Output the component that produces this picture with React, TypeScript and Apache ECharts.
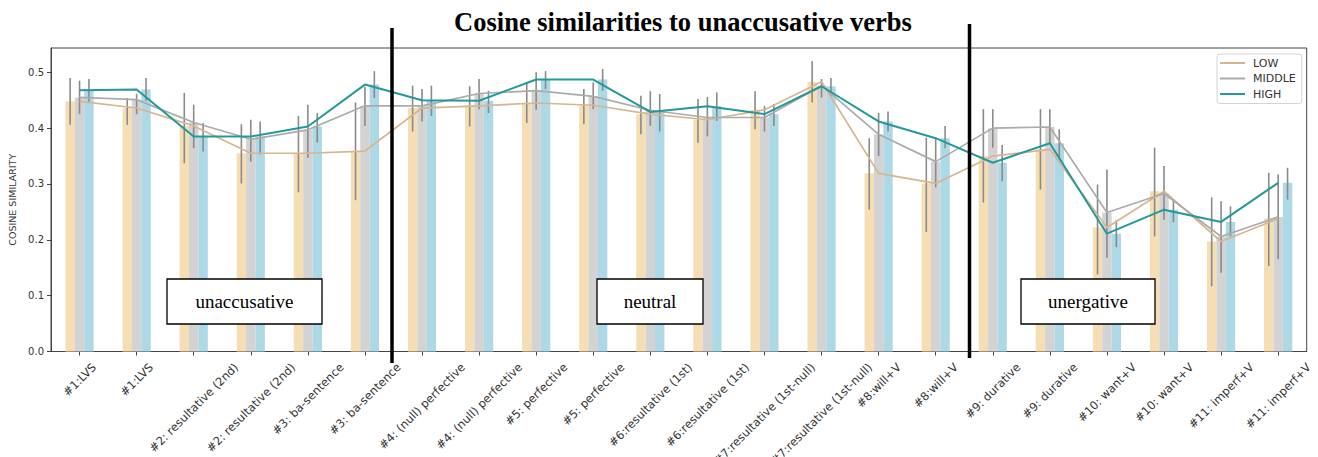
import React, { useEffect, useRef } from 'react';
import * as echarts from 'echarts';

const categories = [
  '#1:LVS', '#1:LVS',
  '#2: resultative (2nd)', '#2: resultative (2nd)',
  '#3: ba-sentence', '#3: ba-sentence',
  '#4: (null) perfective', '#4: (null) perfective',
  '#5: perfective', '#5: perfective',
  '#6:resultative (1st)', '#6:resultative (1st)',
  '#7:resultative (1st-null)', '#7:resultative (1st-null)',
  '#8:will+V', '#8:will+V',
  '#9: durative', '#9: durative',
  '#10: want+V', '#10: want+V',
  '#11: imperf+V', '#11: imperf+V',
];

const seriesNames = ['LOW', 'MIDDLE', 'HIGH'];

const lowMean = [0.448, 0.436, 0.404, 0.355, 0.355, 0.359, 0.436, 0.440, 0.445, 0.441, 0.425, 0.415, 0.433, 0.483, 0.319, 0.301, 0.350, 0.362, 0.222, 0.287, 0.197, 0.238];
const middleMean = [0.455, 0.451, 0.410, 0.380, 0.397, 0.440, 0.440, 0.462, 0.467, 0.457, 0.432, 0.419, 0.419, 0.476, 0.389, 0.340, 0.400, 0.402, 0.249, 0.283, 0.206, 0.241];
const highMean = [0.468, 0.469, 0.385, 0.385, 0.403, 0.478, 0.450, 0.449, 0.487, 0.487, 0.429, 0.439, 0.425, 0.475, 0.412, 0.382, 0.338, 0.373, 0.211, 0.254, 0.232, 0.302];

const lowCI = [
  [0.406, 0.490], [0.406, 0.454], [0.337, 0.463], [0.301, 0.407], [0.285, 0.422], [0.271, 0.446],
  [0.394, 0.476], [0.403, 0.475], [0.409, 0.482], [0.407, 0.470], [0.389, 0.458], [0.374, 0.452],
  [0.398, 0.466], [0.446, 0.520], [0.254, 0.382], [0.214, 0.383], [0.267, 0.434], [0.290, 0.434],
  [0.138, 0.299], [0.206, 0.365], [0.117, 0.276], [0.153, 0.320],
];
const middleCI = [
  [0.425, 0.485], [0.425, 0.461], [0.364, 0.442], [0.340, 0.415], [0.347, 0.442], [0.404, 0.474],
  [0.412, 0.470], [0.434, 0.488], [0.433, 0.500], [0.434, 0.482], [0.404, 0.466], [0.385, 0.456],
  [0.394, 0.440], [0.455, 0.488], [0.350, 0.427], [0.294, 0.383], [0.365, 0.434], [0.371, 0.434],
  [0.168, 0.326], [0.236, 0.332], [0.141, 0.269], [0.165, 0.317],
];
const highCI = [
  [0.446, 0.488], [0.449, 0.490], [0.358, 0.409], [0.353, 0.412], [0.374, 0.427], [0.454, 0.502],
  [0.422, 0.476], [0.427, 0.467], [0.470, 0.502], [0.467, 0.506], [0.394, 0.461], [0.413, 0.464],
  [0.404, 0.443], [0.456, 0.490], [0.394, 0.430], [0.364, 0.404], [0.305, 0.370], [0.345, 0.398],
  [0.187, 0.235], [0.231, 0.272], [0.206, 0.260], [0.272, 0.329],
];

const yTicks = [0, 0.1, 0.2, 0.3, 0.4, 0.5];
const titleText = 'Cosine similarities to unaccusative verbs';
const yAxisTitle = 'COSINE SIMILARITY';
const regionLabels = ['unaccusative', 'neutral', 'unergative'];

const barColors = ['#F5DEB3', '#D3D3D3', '#ADD8E6'];
const lineColors = ['#D6B68E', '#ABABAB', '#22999A'];
const BAR_W = 9.4;
const LABEL_FONT = 11.5;

export default function App() {
  const ref = useRef<HTMLDivElement>(null);

  useEffect(() => {
    if (!ref.current) return;
    const chart = echarts.init(ref.current, null, { renderer: 'svg' });

    const ctx = document.createElement('canvas').getContext('2d')!;
    ctx.font = `${LABEL_FONT}px "DejaVu Sans"`;
    const xData = categories.map((c) => {
      const L = ctx.measureText(c).width;
      const s = (L + LABEL_FONT * 1.15) / 4;
      return {
        value: c,
        textStyle: {
          align: 'center',
          verticalAlign: 'top',
          lineHeight: 2 * s,
          padding: [0, 2 * s, 0, 0],
          fontFamily: 'DejaVu Sans',
          fontSize: LABEL_FONT,
          color: '#333',
        },
      };
    });

    const means = [lowMean, middleMean, highMean];
    const cis = [lowCI, middleCI, highCI];

    const barSeries = seriesNames.map((n, k) => ({
      type: 'bar',
      name: n + ' bars',
      data: means[k],
      barWidth: BAR_W,
      barGap: '0%',
      itemStyle: { color: barColors[k] },
      z: 1,
      silent: true,
    }));

    const errSeries = seriesNames.map((n, k) => ({
      type: 'custom',
      name: n + ' ci',
      data: cis[k].map((e, i) => [i, e[0], e[1]]),
      encode: { x: 0, y: [1, 2] },
      z: 3,
      silent: true,
      renderItem: (_params: any, api: any) => {
        const i = api.value(0);
        const lo = api.coord([i, api.value(1)]);
        const hi = api.coord([i, api.value(2)]);
        const x = lo[0] + (k - 1) * BAR_W;
        return {
          type: 'line',
          shape: { x1: x, y1: lo[1], x2: x, y2: hi[1] },
          style: { stroke: '#8a8a8a', lineWidth: 1.6 },
        };
      },
    }));

    const lineSeries = seriesNames.map((n, k) => ({
      type: 'line',
      name: n,
      data: means[k],
      symbol: 'none',
      color: lineColors[k],
      lineStyle: { color: lineColors[k], width: k === 2 ? 2 : 1.7 },
      itemStyle: { color: lineColors[k] },
      z: 5,
      silent: true,
    }));

    const boxes = [
      { x: 167, y: 279, w: 155, h: 45 },
      { x: 597, y: 279, w: 106, h: 45 },
      { x: 1021, y: 279, w: 134, h: 45 },
    ];

    const graphic: any[] = [
      {
        type: 'text',
        x: 683,
        y: 22,
        z: 100,
        style: {
          text: titleText,
          font: 'bold 26.5px "Liberation Serif"',
          fill: '#000',
          textAlign: 'center',
          textVerticalAlign: 'middle',
        },
      },
      {
        type: 'line',
        z: 100,
        shape: { x1: 392, y1: 28, x2: 392, y2: 363 },
        style: { stroke: '#000', lineWidth: 3.5 },
      },
      {
        type: 'line',
        z: 100,
        shape: { x1: 969.5, y1: 24, x2: 969.5, y2: 358 },
        style: { stroke: '#000', lineWidth: 3.5 },
      },
    ];
    boxes.forEach((b, i) => {
      graphic.push({
        type: 'rect',
        z: 100,
        shape: { x: b.x, y: b.y, width: b.w, height: b.h },
        style: { fill: '#fff', stroke: '#000', lineWidth: 1.3 },
      });
      graphic.push({
        type: 'text',
        z: 101,
        x: b.x + b.w / 2,
        y: b.y + b.h / 2,
        style: {
          text: regionLabels[i],
          font: '19px "Liberation Serif"',
          fill: '#000',
          textAlign: 'center',
          textVerticalAlign: 'middle',
        },
      });
    });

    chart.setOption({
      animation: false,
      grid: {
        left: 51,
        right: 11.3,
        top: 48,
        bottom: 105.5,
        containLabel: false,
        outerBoundsMode: 'none',
        show: true,
        borderColor: '#444',
        borderWidth: 1,
        backgroundColor: 'transparent',
      },
      legend: {
        data: seriesNames.map((n, k) => ({ name: n, icon: 'rect', itemStyle: { color: lineColors[k] } })),
        orient: 'vertical',
        left: 1217,
        top: 54,
        itemWidth: 25,
        itemHeight: 2,
        itemGap: 4.5,
        padding: [3.5, 6, 4, 3],
        backgroundColor: '#fff',
        borderColor: '#d4d4d4',
        borderWidth: 1,
        borderRadius: 3,
        selectedMode: false,
        textStyle: { fontFamily: 'DejaVu Sans', fontSize: 11, color: '#333', padding: [0, 0, 0, 3] },
      },
      xAxis: {
        type: 'category',
        data: xData,
        boundaryGap: true,
        axisLine: { show: true, lineStyle: { color: '#444', width: 1 } },
        axisTick: { show: true, alignWithLabel: true, interval: 0, length: 4, lineStyle: { color: '#444' } },
        axisLabel: {
          interval: 0,
          rotate: 45,
          align: 'center',
          verticalAlign: 'top',
          margin: 9,
          fontFamily: 'DejaVu Sans',
          fontSize: LABEL_FONT,
          color: '#333',
        },
        splitLine: { show: false },
      },
      yAxis: {
        type: 'value',
        min: 0,
        max: 0.5435,
        interval: 0.1,
        name: yAxisTitle,
        nameLocation: 'middle',
        nameGap: 30,
        nameRotate: 90,
        nameTextStyle: { fontFamily: 'DejaVu Sans', fontSize: 9.5, color: '#333' },
        axisLine: { show: true, lineStyle: { color: '#444', width: 1 } },
        axisTick: { show: true, length: 4, lineStyle: { color: '#444' }, customValues: yTicks },
        axisLabel: {
          customValues: yTicks,
          formatter: (v: number) => v.toFixed(1),
          fontFamily: 'DejaVu Sans',
          fontSize: 10,
          color: '#333',
          margin: 7,
        },
        splitLine: { show: false },
      },
      series: [...barSeries, ...errSeries, ...lineSeries],
      graphic,
    } as any);

    return () => chart.dispose();
  }, []);

  return (
    <div
      ref={ref}
      style={{ position: 'fixed', left: 0, top: 0, width: 1318, height: 457, background: '#fff' }}
    />
  );
}
